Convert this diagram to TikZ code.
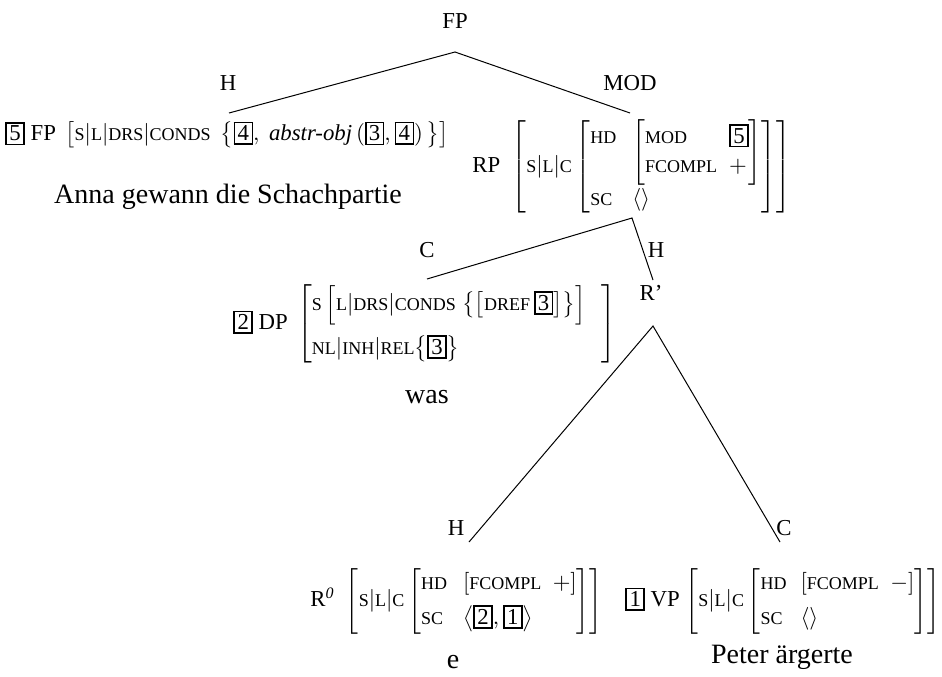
\documentclass[tikz,border=0pt]{standalone}
\usepackage{fix-cm}
\usepackage{amsmath}
\usepackage{fontspec}
\setmainfont{Liberation Serif}
\newcommand\sm[1]{\text{\fontsize{9}{10}\selectfont #1}}
\newcommand\tg[1]{\text{\fboxsep=1.2pt\fboxrule=0.85pt\fbox{#1}}}
\renewcommand\arraystretch{1.15}
\tikzset{
  cat/.style={font=\fontsize{11.4}{13}\selectfont, inner sep=0pt},
  elab/.style={font=\fontsize{11.4}{13}\selectfont, inner sep=0pt, anchor=base},
  word/.style={font=\fontsize{14}{16}\selectfont, inner sep=0pt, anchor=base},
  branch/.style={line width=0.5pt}
}
\begin{document}
\begin{tikzpicture}[x=0.5pt,y=-0.5pt]
\useasboundingbox (0,0) rectangle (942,676);
% top
\node[cat, anchor=base] (fp) at (455,28) {FP};
\coordinate (fpbr) at (455,52);
\coordinate (fpl) at (229,113);
\coordinate (fpr) at (630,113);
\node[elab] (lfh) at (228,90) {H};
\node[elab] (lfmod) at (630,90) {MOD};
\draw[branch] (fpl) -- (fpbr) -- (fpr);
% FP head daughter
\node[cat, anchor=west] (fpavm) at (5,135) {\tg{5} FP\, $\left[\sm{S}|\sm{L}|\sm{DRS}|\sm{CONDS}\;\left\{\tg{4},\ \textit{abstr-obj}\,(\tg{3},\tg{4})\,\right\}\right]$};
\node[word] (w1) at (228,203) {Anna gewann die Schachpartie};
% RP
\node[cat, anchor=west] (rpavm) at (472,167) {RP\ \ $\left[\sm{S}|\sm{L}|\sm{C}\left[\begin{array}{@{}l@{\hspace{8pt}}l@{}}\sm{HD} & \raisebox{-7.3pt}{$\left[\begin{array}{@{}l@{\hspace{6pt}}l@{}}\sm{MOD} & \tg{5}\\ \sm{FCOMPL} & +\end{array}\right]$}\\ \sm{SC} & \langle\rangle\end{array}\right]\right]$};
\coordinate (rpbr) at (632,218);
\coordinate (rpl) at (427,279);
\coordinate (rpr) at (653,280);
\node[elab] (lrc) at (427,257) {C};
\node[elab] (lrh) at (656,257) {H};
\draw[branch] (rpl) -- (rpbr) -- (rpr);
% DP
\node[cat, anchor=west] (dpavm) at (233,324) {\tg{2} DP\, $\left[\begin{array}{@{}l@{\hspace{8pt}}}\sm{S}\,\Bigl[\sm{L}|\sm{DRS}|\sm{CONDS}\;\bigl\{\bigl[\sm{DREF}\,\tg{3}\bigr]\bigr\}\Bigr]\\[7pt] \sm{NL}|\sm{INH}|\sm{REL}\bigl\{\tg{3}\bigr\}\end{array}\right]$};
\node[word] (w2) at (427,403) {was};
% R'
\node[cat, anchor=base] (rbar) at (651,300) {R'};
\coordinate (r1br) at (653,326);
\coordinate (r1l) at (469,542);
\coordinate (r1r) at (780,542);
\node[elab] (lr1h) at (456,535) {H};
\node[elab] (lr1c) at (784,535) {C};
\draw[branch] (r1l) -- (r1br) -- (r1r);
% R0
\node[cat, anchor=west] (r0avm) at (310,601) {R\textsuperscript{\itshape 0}\ \ $\left[\sm{S}|\sm{L}|\sm{C}\left[\begin{array}{@{}l@{\hspace{8pt}}l@{}}\sm{HD} & \left[\sm{FCOMPL}\ \ +\right]\\[2.5pt] \sm{SC} & \left\langle\tg{2},\tg{1}\right\rangle\end{array}\right]\right]$};
\node[word] (w3) at (453,668) {e};
% VP
\node[cat, anchor=west] (vpavm) at (625,601) {\tg{1} VP $\left[\sm{S}|\sm{L}|\sm{C}\left[\begin{array}{@{}l@{\hspace{7pt}}l@{}}\sm{HD} & \left[\sm{FCOMPL}\ \ -\right]\\[2.5pt] \sm{SC} & \langle\rangle\end{array}\right]\right]$};
\node[word] (w4) at (782,663) {Peter ärgerte};
\end{tikzpicture}
\end{document}
